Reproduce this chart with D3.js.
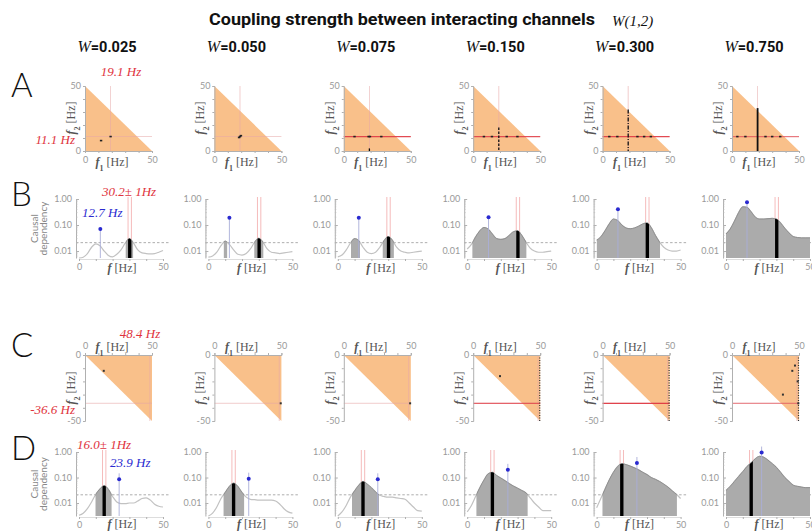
<!DOCTYPE html>
<meta charset="utf-8">
<style>
body { margin: 0; background: #fff; }
text { font-family: Lato, "Open Sans", sans-serif; }
.serif { font-family: "Liberation Serif", "DejaVu Serif", serif; }
</style>
<body>
<script src="https://d3js.org/d3.v7.min.js"></script>
<script>

const width = 812, height = 532;

// coupling strength for each column
const couplings = ["0.025", "0.050", "0.075", "0.150", "0.300", "0.750"];

// frequency grid of the spectra (Hz)
const freqs = [0, 2.5, 5, 7.5, 10, 12.5, 15, 17.5, 20, 22.5, 25, 27.5, 30, 32.5, 35, 37.5, 40, 42.5, 45, 47.5, 50];

// row B: causal dependency spectra
const spectraB = [
  [0.0052, 0.0058, 0.008, 0.014, 0.019, 0.016, 0.010, 0.0068, 0.006, 0.0075, 0.011, 0.020, 0.030, 0.020, 0.011, 0.0085, 0.008, 0.0078, 0.008, 0.009, 0.0105],
  [0.0058, 0.0065, 0.009, 0.016, 0.024, 0.018, 0.011, 0.0075, 0.007, 0.008, 0.012, 0.022, 0.031, 0.022, 0.012, 0.009, 0.0085, 0.008, 0.0085, 0.009, 0.0095],
  [0.006, 0.007, 0.011, 0.020, 0.030, 0.025, 0.014, 0.009, 0.008, 0.009, 0.014, 0.025, 0.036, 0.026, 0.014, 0.010, 0.009, 0.0085, 0.009, 0.0095, 0.010],
  [0.012, 0.018, 0.035, 0.060, 0.080, 0.070, 0.045, 0.030, 0.028, 0.030, 0.040, 0.055, 0.060, 0.040, 0.022, 0.013, 0.010, 0.009, 0.009, 0.0095, 0.010],
  [0.026, 0.035, 0.060, 0.110, 0.170, 0.150, 0.100, 0.077, 0.072, 0.077, 0.090, 0.110, 0.120, 0.080, 0.040, 0.022, 0.014, 0.011, 0.010, 0.010, 0.011],
  [0.045, 0.070, 0.140, 0.300, 0.500, 0.480, 0.320, 0.200, 0.170, 0.170, 0.175, 0.180, 0.170, 0.120, 0.075, 0.050, 0.036, 0.033, 0.032, 0.032, 0.032]
];

// row D: causal dependency spectra
const spectraD = [
  [0.0033, 0.004, 0.006, 0.011, 0.022, 0.036, 0.048, 0.034, 0.018, 0.011, 0.0095, 0.0095, 0.010, 0.010, 0.012, 0.015, 0.016, 0.013, 0.009, 0.0075, 0.007],
  [0.0028, 0.004, 0.007, 0.015, 0.026, 0.045, 0.060, 0.045, 0.026, 0.017, 0.014, 0.0135, 0.013, 0.013, 0.013, 0.013, 0.012, 0.009, 0.006, 0.0045, 0.004],
  [0.003, 0.0045, 0.008, 0.017, 0.030, 0.050, 0.070, 0.055, 0.040, 0.027, 0.020, 0.018, 0.017, 0.017, 0.016, 0.015, 0.014, 0.010, 0.007, 0.005, 0.0048],
  [0.0045, 0.008, 0.018, 0.040, 0.080, 0.140, 0.160, 0.120, 0.095, 0.075, 0.058, 0.046, 0.038, 0.031, 0.025, 0.016, 0.010, 0.007, 0.005, 0.005, 0.005],
  [0.0065, 0.015, 0.035, 0.080, 0.160, 0.270, 0.350, 0.320, 0.280, 0.240, 0.200, 0.160, 0.130, 0.100, 0.085, 0.070, 0.055, 0.042, 0.030, 0.022, 0.015],
  [0.031, 0.045, 0.070, 0.110, 0.170, 0.270, 0.380, 0.550, 0.680, 0.620, 0.480, 0.350, 0.250, 0.160, 0.100, 0.070, 0.050, 0.045, 0.042, 0.040, 0.040]
];

const threshold = 0.021;
const redFreqB = 30.2, redFreqD = 15.0;       // ±1 Hz band
const blueFreqB = [12.7, 12.5, 12.5, 12.7, 12.7, 12.5];
const blueValB  = [0.07, 0.19, 0.19, 0.20, 0.40, 0.75];
const blueFreqD = [23.9, 24.0, 23.8, 24.2, 24.0, 21.2];
const blueValD  = [0.085, 0.09, 0.085, 0.20, 0.37, 0.95];

// rows A and C: (f1, f2) planes
const crossA = [19.1, 11.1];
const crossC = [48.4, -36.6];
const aVertTop = [0, 0, 2, 18, 32, 33];        // f2 reach of vertical trace at f1 = 19.1
const aHasHLine = [false, false, true, true, true, true];
const aPoints = [
  [[19.1, 11.1], [12, 8]],
  [[18.4, 10.4], [19.1, 11.1], [19.8, 11.8]],
  [[18.5, 11.1], [19.5, 11.1], [8, 11.1], [28, 11.1]],
  [[8, 11.1], [14, 11.1], [25, 11.1], [33, 11.1]],
  [[5, 11.1], [11, 11.1], [26, 11.1], [31, 11.1], [36, 11.1]],
  [[4, 11.1], [10, 11.1], [25, 11.1], [30, 11.1], [36, 11.1]]
];
const cHasHLine = [false, false, false, true, true, true];
const cHasVLine = [false, false, false, true, true, true];
const cPoints = [
  [[14, -12]],
  [[49.5, -36.6]],
  [[49.5, -36.6]],
  [[20, -16]],
  [],
  [[45, -12], [47, -8], [38, -30], [49, -20], [49.5, -36.6]]
];

// styling per column for the red significance line
const aLineOpacity = [0, 0, 0.85, 0.8, 0.85, 0.55];
const cLineOpacity = [0, 0, 0, 0.7, 0.9, 0.45];

const colStep = 129.4;
const red = "#e0333d", blue = "#2a2ad0", orange = "#f9c08a";

const svg = d3.select("body").append("svg")
    .attr("width", width)
    .attr("height", height)
    .style("background", "#fff");

const defs = svg.append("defs");
let clipCount = 0;
function clipRect(x0, x1, y0, y1) {
  const id = "clip" + (clipCount++);
  defs.append("clipPath").attr("id", id)
    .append("rect")
      .attr("x", x0).attr("y", y0)
      .attr("width", Math.max(0, x1 - x0)).attr("height", y1 - y0);
  return `url(#${id})`;
}

function styleAxis(g) {
  g.select(".domain").attr("stroke", "#b0b0b0");
  g.selectAll(".tick line").attr("stroke", "#b0b0b0");
  g.selectAll(".tick text").attr("fill", "#999").style("font-size", "9px");
}

function hzLabel(sel, sym, sub) {
  sel.attr("class", "serif").attr("fill", "#555").style("font-size", "12px");
  sel.append("tspan").text(sym).style("font-style", "italic").style("font-weight", "bold");
  if (sub) sel.append("tspan").text(sub).attr("baseline-shift", "sub").style("font-size", "8px").style("font-weight", "bold");
  sel.append("tspan").text(" [Hz]");
}

// ---- titles ----
svg.append("text").attr("x", 209).attr("y", 25)
    .attr("textLength", 386).attr("lengthAdjust", "spacingAndGlyphs")
    .style("font-family", "Roboto, sans-serif").style("font-weight", "bold").style("font-size", "17px")
    .attr("fill", "#111").text("Coupling strength between interacting channels");
svg.append("text").attr("class", "serif").attr("x", 612).attr("y", 26)
    .style("font-style", "italic").style("font-size", "15px").attr("fill", "#111").text("W(1,2)");

couplings.forEach((c, i) => {
  const t = svg.append("text").attr("x", 107 + colStep * i).attr("y", 52)
      .attr("text-anchor", "middle").attr("fill", "#111");
  t.append("tspan").attr("class", "serif").style("font-style", "italic").style("font-size", "16px").text("W");
  t.append("tspan").style("font-family", "Roboto, sans-serif").style("font-weight", "bold")
      .style("font-size", "14.5px").text("=" + c);
});

[["A", 97], ["B", 206], ["C", 357], ["D", 460]].forEach(([l, y]) => {
  svg.append("text").attr("x", 11).attr("y", y).text(l)
    .style("font-family", "Lato, sans-serif").style("font-weight", 300)
    .style("font-size", "33px").attr("fill", "#111");
});

// ---- triangle panels ----
function triPanel(i, row) {
  const top = row === "A";
  const x = d3.scaleLinear([0, 50], [85 + colStep * i, 152 + colStep * i]);
  const y = top ? d3.scaleLinear([0, 50], [151, 86]) : d3.scaleLinear([0, -50], [355, 421]);
  const g = svg.append("g");
  const tri = top ? [[0, 0], [50, 0], [0, 50]] : [[0, 0], [50, 0], [50, -50]];
  g.append("path")
    .attr("d", d3.line().x(d => x(d[0])).y(d => y(d[1]))(tri) + "Z")
    .attr("fill", orange);

  const cross = top ? crossA : crossC;
  const yEnd = top ? 50 : -50;
  g.append("line").attr("x1", x(cross[0])).attr("x2", x(cross[0]))
    .attr("y1", y(yEnd)).attr("y2", y(0))
    .attr("stroke", "#e8a8a8").attr("stroke-width", 0.7).attr("opacity", 0.8);
  g.append("line").attr("x1", x(0)).attr("x2", x(50))
    .attr("y1", y(cross[1])).attr("y2", y(cross[1]))
    .attr("stroke", "#e8a8a8").attr("stroke-width", 0.7).attr("opacity", 0.8);

  if (top) {
    if (aHasHLine[i]) {
      g.append("line").attr("x1", x(0)).attr("x2", x(50))
        .attr("y1", y(crossA[1])).attr("y2", y(crossA[1]))
        .attr("stroke", red).attr("stroke-width", 1.3).attr("opacity", aLineOpacity[i]);
    }
    if (aVertTop[i] > 0) {
      const dash = i === 4 ? "4,1.5,1,1.5" : i === 3 ? "2.5,1.5" : null;
      g.append("line").attr("x1", x(crossA[0])).attr("x2", x(crossA[0]))
        .attr("y1", y(aVertTop[i])).attr("y2", y(0))
        .attr("stroke", "#111").attr("stroke-width", i === 5 ? 1.8 : 1.3)
        .attr("stroke-dasharray", dash);
    }
    g.selectAll(".pt").data(aPoints[i]).enter().append("rect")
      .attr("x", d => x(d[0]) - 1.2).attr("y", d => y(d[1]) - 0.8)
      .attr("width", 2.4).attr("height", 1.6).attr("fill", "#222");
  } else {
    if (cHasHLine[i]) {
      g.append("line").attr("x1", x(0)).attr("x2", x(50))
        .attr("y1", y(crossC[1])).attr("y2", y(crossC[1]))
        .attr("stroke", red).attr("stroke-width", 1.3).attr("opacity", cLineOpacity[i]);
    }
    if (cHasVLine[i]) {
      g.append("line").attr("x1", x(50) - 0.5).attr("x2", x(50) - 0.5)
        .attr("y1", y(0)).attr("y2", y(-50))
        .attr("stroke", "#333").attr("stroke-width", 1.2).attr("stroke-dasharray", "1,1.5");
    }
    g.selectAll(".pt").data(cPoints[i]).enter().append("rect")
      .attr("x", d => x(d[0]) - 1).attr("y", d => y(d[1]) - 1)
      .attr("width", 2).attr("height", 2).attr("fill", "#333");
  }

  const fmt = d => (d === 0 || Math.abs(d) === 50) ? d : "";
  const ticks = top ? [0, 10, 20, 30, 40, 50] : [0, -10, -20, -30, -40, -50];
  const ay = g.append("g").attr("transform", `translate(${x(0)},0)`)
    .call(d3.axisLeft(y).tickValues(ticks).tickFormat(fmt).tickSize(2).tickPadding(2));
  const ax = g.append("g").attr("transform", `translate(0,${y(0)})`)
    .call((top ? d3.axisBottom(x) : d3.axisTop(x)).tickValues([0, 10, 20, 30, 40, 50]).tickFormat(fmt).tickSize(2).tickPadding(4));
  styleAxis(ay); styleAxis(ax);

  g.append("text").attr("x", x(0) + 27).attr("y", top ? 166 : 351)
    .attr("text-anchor", "middle").call(hzLabel, "f", "1");
  g.append("text").attr("transform", `translate(${x(0) - 10},${top ? 118 : 388}) rotate(-90)`)
    .attr("text-anchor", "middle").call(hzLabel, "f", "2");
}

// ---- spectrum panels ----
function runsAbove(vals, thr) {
  const runs = [];
  let start = vals[0] >= thr ? freqs[0] : null;
  for (let k = 1; k < freqs.length; k++) {
    const a0 = vals[k - 1] >= thr, a1 = vals[k] >= thr;
    if (a0 !== a1) {
      const t = (Math.log(thr) - Math.log(vals[k - 1])) / (Math.log(vals[k]) - Math.log(vals[k - 1]));
      const fc = freqs[k - 1] + t * (freqs[k] - freqs[k - 1]);
      if (a1) start = fc; else { runs.push([start, fc]); start = null; }
    }
  }
  if (start !== null) runs.push([start, freqs[freqs.length - 1]]);
  return runs;
}

function specPanel(i, row) {
  const isB = row === "B";
  const vals = isB ? spectraB[i] : spectraD[i];
  const x = d3.scaleLinear([0, 50], [79 + colStep * i, 163 + colStep * i]);
  const y = isB ? d3.scaleLog([0.0054, 1], [258, 199]) : d3.scaleLog([0.0031, 1], [516, 452]);
  y.clamp(true);
  const [yb, yt] = y.range();
  const rf = isB ? redFreqB : redFreqD;
  const bf = isB ? blueFreqB[i] : blueFreqD[i];
  const bv = isB ? blueValB[i] : blueValD[i];
  const g = svg.append("g");
  const pts = freqs.map((f, k) => [f, vals[k]]);
  const line = d3.line().x(d => x(d[0])).y(d => y(d[1])).curve(d3.curveMonotoneX);
  const area = d3.area().x(d => x(d[0])).y0(yb).y1(d => y(d[1])).curve(d3.curveMonotoneX);

  g.append("line").attr("x1", x(0) - 3).attr("x2", x(54))
    .attr("y1", y(threshold)).attr("y2", y(threshold))
    .attr("stroke", "#999").attr("stroke-width", 0.8).attr("stroke-dasharray", "2.5,2");

  [rf - 1, rf + 1].forEach(f => {
    g.append("line").attr("x1", x(f)).attr("x2", x(f)).attr("y1", yt - 2).attr("y2", yb)
      .attr("stroke", "#f2a9a9").attr("stroke-width", 0.8);
  });

  g.append("path").attr("d", line(pts)).attr("fill", "none")
    .attr("stroke", "#c2c2c2").attr("stroke-width", 1.2);

  runsAbove(vals, threshold).forEach(([a, b]) => {
    const cp = clipRect(x(a), x(b), yt - 5, yb);
    g.append("path").attr("d", area(pts)).attr("fill", "#ababab").attr("clip-path", cp);
    g.append("path").attr("d", line(pts)).attr("fill", "none")
      .attr("stroke", "#8f8f8f").attr("stroke-width", 1).attr("clip-path", cp);
  });

  g.append("path").attr("d", area(pts)).attr("fill", "#000")
    .attr("clip-path", clipRect(x(rf - 1), x(rf + 1), yt - 5, yb));

  g.append("line").attr("x1", x(bf)).attr("x2", x(bf)).attr("y1", y(bv) - (isB ? 0 : 6)).attr("y2", yb)
    .attr("stroke", "#a9aed8").attr("stroke-width", 0.9);
  g.append("circle").attr("cx", x(bf)).attr("cy", y(bv)).attr("r", 2).attr("fill", blue);

  // axes
  const ay = g.append("g").attr("transform", `translate(${x(0) - 3},0)`)
    .call(d3.axisLeft(y).tickValues([0.01, 0.1, 1]).tickFormat(d3.format(".2f"))
      .tickSizeInner(-3).tickSizeOuter(0).tickPadding(4));
  styleAxis(ay);
  y.ticks().filter(t => ![0.01, 0.1, 1].some(m => Math.abs(t - m) < 1e-9)).forEach(t => {
    ay.append("line").attr("x1", 0).attr("x2", 1.6).attr("y1", y(t)).attr("y2", y(t))
      .attr("stroke", "#bbb").attr("stroke-width", 0.6);
  });
  const ax = g.append("g").attr("transform", `translate(0,${yb + 1})`)
    .call(d3.axisBottom(x).tickValues([0, 10, 20, 30, 40, 50]).tickFormat(d => (d === 0 || d === 50) ? d : "")
      .tickSizeInner(2).tickSizeOuter(0).tickPadding(3));
  styleAxis(ax);
  ax.select(".domain").attr("stroke", "#ddd");

  g.append("text").attr("x", x(0) + 43).attr("y", yb + (isB ? 14 : 12))
    .attr("text-anchor", "middle").call(hzLabel, "f", null);

  if (i === 0) {
    const cy = (yt + yb) / 2;
    ["Causal", "dependency"].forEach((w, k) => {
      g.append("text").attr("transform", `translate(${38 + k * 9},${cy}) rotate(-90)`)
        .attr("text-anchor", "middle").attr("fill", "#888").style("font-size", "10px").text(w);
    });
  }
}

for (let i = 0; i < 6; i++) {
  triPanel(i, "A");
  specPanel(i, "B");
  triPanel(i, "C");
  specPanel(i, "D");
}

// ---- frequency annotations (first column) ----
function note(x, y, txt, color, anchor) {
  svg.append("text").attr("class", "serif").attr("x", x).attr("y", y)
    .attr("text-anchor", anchor || "start").attr("fill", color)
    .style("font-style", "italic").style("font-size", "13px").text(txt);
}
note(121, 76, "19.1 Hz", red, "middle");
note(75, 144, "11.1 Hz", red, "end");
note(102, 196, "30.2\u00b1 1Hz", red);
note(82, 217, "12.7 Hz", blue);
note(140, 338, "48.4 Hz", red, "middle");
note(75, 414, "-36.6 Hz", red, "end");
note(77, 449, "16.0\u00b1 1Hz", red);
note(110, 467, "23.9 Hz", blue);

</script>
